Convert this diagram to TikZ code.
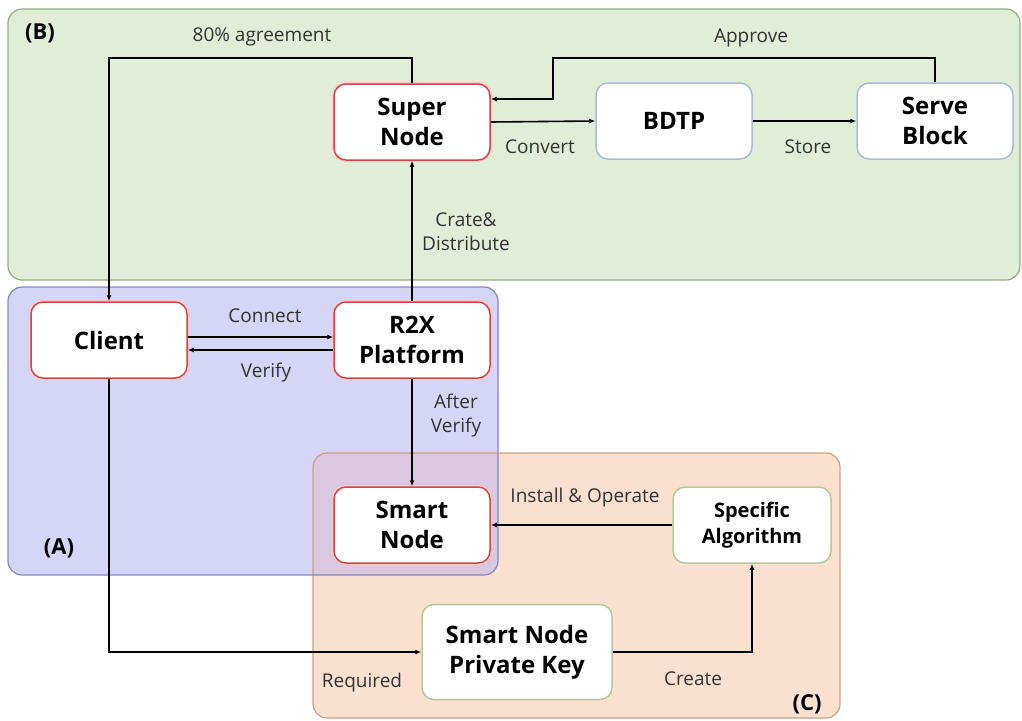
\documentclass[tikz,border=0pt]{standalone}
\usepackage{fontspec}
\setmainfont{Open Sans}
\usetikzlibrary{arrows.meta}
\definecolor{pgreen}{HTML}{E2EDD8}
\definecolor{pgreenb}{HTML}{93AB84}
\definecolor{pblue}{HTML}{D5D5F6}
\definecolor{pblueb}{HTML}{8585C2}
\definecolor{porange}{HTML}{FAE1CF}
\definecolor{porangeb}{HTML}{C9A183}
\definecolor{pmix}{HTML}{D9C8E0}
\definecolor{redb}{HTML}{C84A4A}
\definecolor{blueb}{HTML}{A9BCD6}
\definecolor{oliveb}{HTML}{B5C99A}
\definecolor{txt}{HTML}{333333}
\begin{document}
\begin{tikzpicture}[x=1pt,y=-1pt,
  panel/.style={rounded corners=14pt, line width=1.2pt},
  box/.style={draw, fill=white, rounded corners=12pt, line width=1.5pt, align=center,
    minimum width=156pt, minimum height=76pt, inner sep=0pt,
    font=\fontsize{24}{30}\selectfont\bfseries},
  redbox/.style={box, draw=redb, preaction={draw=red!22, line width=4pt}},
  bluebox/.style={box, draw=blueb},
  olivebox/.style={box, draw=oliveb},
  lbl/.style={font=\fontsize{19}{24}\selectfont, text=txt, align=center, inner sep=0pt},
  tag/.style={font=\fontsize{22}{26}\selectfont\bfseries, inner sep=0pt},
  arr/.style={line width=1.6pt, -{Latex[length=6pt,width=5pt]}},
]
\useasboundingbox (0,0) rectangle (1022,720);
% panels
\fill[panel, pgreen] (8,9) rectangle (1020,280);
\draw[panel, pgreenb] (8,9) rectangle (1020,280);
\fill[panel, porange] (313,453) rectangle (840,718);
\fill[panel, pblue] (8,287) rectangle (498,575);
\begin{scope}
  \clip[rounded corners=14pt] (8,287) rectangle (498,575);
  \fill[panel, pmix] (313,453) rectangle (840,718);
\end{scope}
\draw[panel, porangeb] (313,453) rectangle (840,718);
\draw[panel, pblueb] (8,287) rectangle (498,575);
\node[tag] (tB) at (40,33) {(B)};
\node[tag] (tA) at (59,548) {(A)};
\node[tag] (tC) at (807,704) {(C)};
% nodes
\node[redbox] (super) at (412,122) {Super\\Node};
\node[bluebox] (bdtp) at (674,121) {BDTP};
\node[bluebox] (serve) at (935,121) {Serve\\Block};
\node[redbox] (client) at (109,340) {Client};
\node[redbox] (r2x) at (412,340) {R2X\\Platform};
\node[redbox] (smart) at (412,525) {Smart\\Node};
\node[olivebox, minimum width=158pt, font=\fontsize{20}{26}\selectfont\bfseries] (algo) at (752,525) {Specific\\Algorithm};
\node[olivebox, minimum width=190pt, minimum height=95pt] (pkey) at (517,652) {Smart Node\\Private Key};
% helper coordinates
\coordinate (top) at (0,58);
\coordinate (apx) at (553,0);
\coordinate (apy) at (0,99);
\coordinate (cy) at (0,337);
\coordinate (vy) at (0,350);
% connectors
\draw[arr] (super.north) -- (super.north |- top) -- (client.north |- top) -- (client.north);
\draw[arr] (serve.north) -- (serve.north |- top) -- (apx |- top) -- (apx |- apy) -- (super.east |- apy);
\draw[arr] (super.east) -- (bdtp.west);
\draw[arr] (bdtp.east) -- (serve.west);
\draw[arr] (r2x.north) -- (super.south);
\draw[arr] (client.east |- cy) -- (r2x.west |- cy);
\draw[arr] (r2x.west |- vy) -- (client.east |- vy);
\draw[arr] (r2x.south) -- (smart.north);
\draw[arr] (algo.west) -- (smart.east);
\draw[arr] (client.south) |- (pkey.west);
\draw[arr] (pkey.east) -| (algo.south);
% labels
\node[lbl] (l80) at (262,37) {80\% agreement};
\node[lbl] (lap) at (751,38) {Approve};
\node[lbl] (lcv) at (540,147) {Convert};
\node[lbl] (lst) at (808,147) {Store};
\node[lbl] (lcd) at (466,232) {Crate\&\\Distribute};
\node[lbl] (lcn) at (265,316) {Connect};
\node[lbl] (lvf) at (266,373) {Verify};
\node[lbl] (lav) at (456,416) {After\\Verify};
\node[lbl] (lio) at (585,498) {Install \& Operate};
\node[lbl] (lrq) at (362,683) {Required};
\node[lbl] (lcr) at (693,679) {Create};
\end{tikzpicture}
\end{document}
